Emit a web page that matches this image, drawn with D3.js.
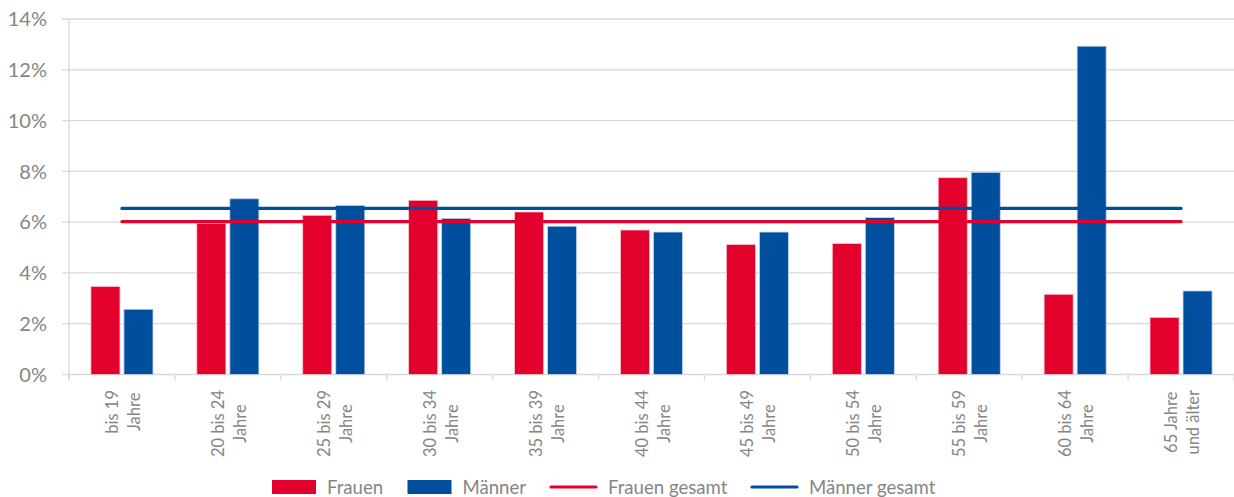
<!DOCTYPE html>
<html>
<head>
<meta charset="utf-8">
<script src="https://cdn.jsdelivr.net/npm/d3@7"></script>
<style>
  body { margin: 0; background: #fff; }
  svg { display: block; font-family: Lato, "Liberation Sans", sans-serif; }
</style>
</head>
<body>
<div id="chart"></div>
<script>
// data
const categories = [
  ['bis 19', 'Jahre'], ['20 bis 24', 'Jahre'], ['25 bis 29', 'Jahre'],
  ['30 bis 34', 'Jahre'], ['35 bis 39', 'Jahre'], ['40 bis 44', 'Jahre'],
  ['45 bis 49', 'Jahre'], ['50 bis 54', 'Jahre'], ['55 bis 59', 'Jahre'],
  ['60 bis 64', 'Jahre'], ['65 Jahre', 'und älter']
];
const frauen = [3.47, 5.95, 6.27, 6.86, 6.40, 5.69, 5.12, 5.16, 7.75, 3.16, 2.25];
const maenner = [2.57, 6.92, 6.66, 6.15, 5.84, 5.61, 5.61, 6.18, 7.96, 12.93, 3.29];
const frauenGesamt = [6.02, 6.02, 6.02, 6.02, 6.02, 6.02, 6.02, 6.02, 6.02, 6.02, 6.02];
const maennerGesamt = [6.54, 6.54, 6.54, 6.54, 6.54, 6.54, 6.54, 6.54, 6.54, 6.54, 6.54];
const yTicks = [0, 2, 4, 6, 8, 10, 12, 14];
const legendItems = ['Frauen', 'Männer', 'Frauen gesamt', 'Männer gesamt'];

const s = {
  width: 1234,
  height: 497,
  left: 69,
  right: 1234,
  top: 19,
  bottom: 374.5,
  red: '#e3002c',
  blue: '#004f9e',
  grid: '#d9d9d9',
  text: '#858585'
};

const svg = d3.select('#chart').append('svg')
  .attr('width', s.width)
  .attr('height', s.height);

const keys = categories.map(c => c.join(' '));
const x = d3.scaleBand().domain(keys).range([s.left, s.right]);
const sub = d3.scaleBand().domain(['f', 'm'])
  .range([0, x.bandwidth()])
  .paddingInner(0.12)
  .paddingOuter(0.664);
const y = d3.scaleLinear().domain([0, 14]).range([s.bottom, s.top]);

// gridlines
svg.append('g').selectAll('line')
  .data(yTicks)
  .join('line')
  .attr('x1', s.left - 7)
  .attr('x2', s.right)
  .attr('y1', d => y(d))
  .attr('y2', d => y(d))
  .style('stroke', s.grid)
  .style('stroke-width', 1.3);

// y labels
svg.append('g').selectAll('text')
  .data(yTicks)
  .join('text')
  .attr('x', 47)
  .attr('y', d => y(d))
  .attr('dy', '0.36em')
  .attr('text-anchor', 'end')
  .style('font-size', '20px')
  .style('fill', s.text)
  .text(d => `${d}%`);

// axes lines
svg.append('line')
  .attr('x1', s.left).attr('x2', s.left)
  .attr('y1', s.top).attr('y2', s.bottom + 6)
  .style('stroke', s.grid).style('stroke-width', 1.3);
svg.append('g').selectAll('line')
  .data(keys.concat(['end']))
  .join('line')
  .attr('x1', (d, i) => s.left + i * x.step())
  .attr('x2', (d, i) => s.left + i * x.step())
  .attr('y1', s.bottom)
  .attr('y2', s.bottom + 6)
  .style('stroke', s.grid).style('stroke-width', 1.3);

// bars
const groups = svg.append('g').selectAll('g')
  .data(keys)
  .join('g')
  .attr('transform', d => `translate(${x(d)},0)`);
groups.append('rect')
  .attr('x', sub('f'))
  .attr('width', sub.bandwidth())
  .attr('y', (d, i) => y(frauen[i]))
  .attr('height', (d, i) => y(0) - y(frauen[i]))
  .style('fill', s.red)
  .style('stroke', '#f3c9d0')
  .style('stroke-width', 0.8);
groups.append('rect')
  .attr('x', sub('m'))
  .attr('width', sub.bandwidth())
  .attr('y', (d, i) => y(maenner[i]))
  .attr('height', (d, i) => y(0) - y(maenner[i]))
  .style('fill', s.blue)
  .style('stroke', '#c5d6ea')
  .style('stroke-width', 0.8);

// total lines
const line = d3.line()
  .x((d, i) => x(keys[i]) + x.bandwidth() / 2)
  .y(d => y(d));
[[frauenGesamt, s.red], [maennerGesamt, s.blue]].forEach(([vals, col]) => {
  svg.append('path')
    .attr('d', line(vals))
    .style('fill', 'none')
    .style('stroke', col)
    .style('stroke-width', 3.2)
    .style('stroke-linecap', 'round');
});

// x labels, rotated, lines centered
const labels = svg.append('g').selectAll('g')
  .data(categories)
  .join('g')
  .attr('transform', (d, i) => `translate(${x(keys[i]) + x.bandwidth() / 2},390) rotate(-90)`);
labels.each(function(d) {
  const g = d3.select(this);
  const texts = d.map((t, j) => g.append('text')
    .attr('y', j === 0 ? -4 : 18)
    .attr('text-anchor', 'middle')
    .style('font-size', '16.5px')
    .style('fill', s.text)
    .text(t));
  const len = d3.max(texts, t => t.node().getComputedTextLength());
  texts.forEach(t => t.attr('x', -len / 2));
});

// legend
const legendX = [272, 407.5, 551, 752];
const legend = svg.append('g').selectAll('g')
  .data(legendItems)
  .join('g')
  .attr('transform', (d, i) => `translate(${legendX[i]},487)`);
legend.each(function(d, i) {
  const g = d3.select(this);
  const col = i % 2 === 0 ? s.red : s.blue;
  if (i < 2) {
    g.append('rect').attr('x', 0).attr('y', -7).attr('width', 44).attr('height', 14)
      .style('fill', col);
  } else {
    g.append('line').attr('x1', 0).attr('x2', 45).attr('y1', 0).attr('y2', 0)
      .style('stroke', col).style('stroke-width', 3.2).style('stroke-linecap', 'round');
  }
  g.append('text')
    .attr('x', i < 2 ? 55 : 57)
    .attr('dy', '0.36em')
    .style('font-size', '18.6px')
    .style('fill', s.text)
    .text(d);
});
</script>
</body>
</html>
